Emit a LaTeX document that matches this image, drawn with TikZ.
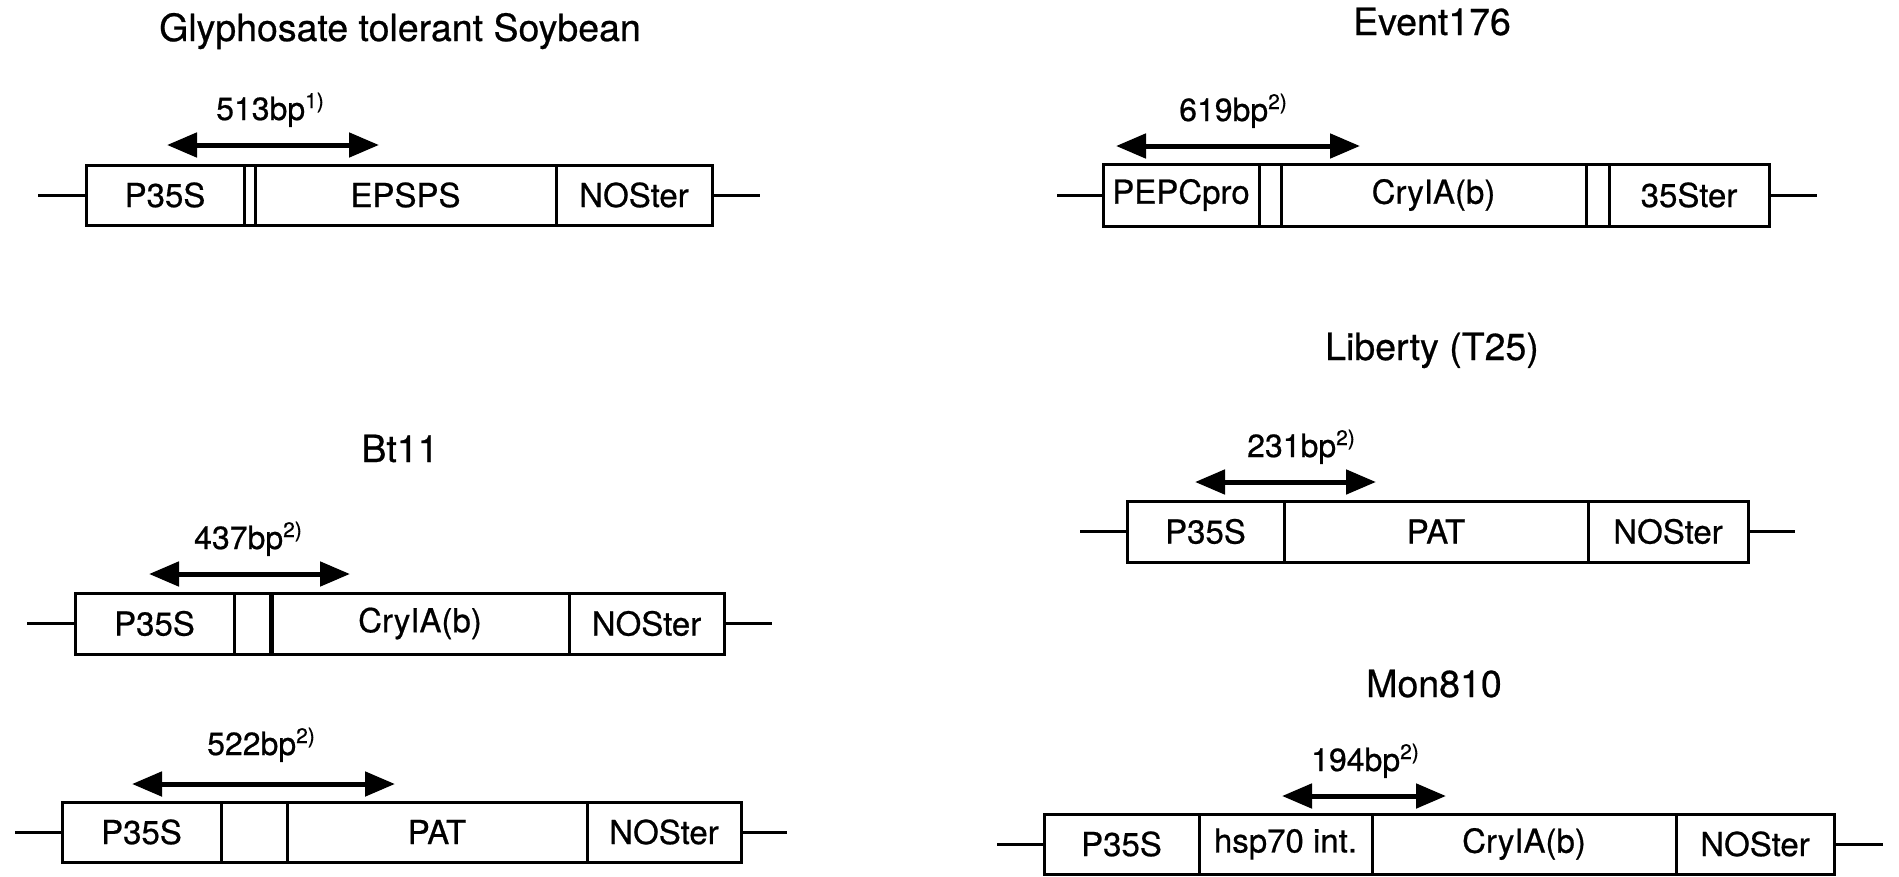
\documentclass[tikz,border=0pt]{standalone}
\usepackage{fontspec}
\setmainfont[FakeBold=0.6]{TeX Gyre Heros}
\usetikzlibrary{arrows.meta}
\newcommand{\bpsup}[1]{\raisebox{12pt}{\fontsize{21}{21}\selectfont #1}}
\begin{document}
\begin{tikzpicture}[x=1pt,y=-1pt,
  seg/.style={draw, line width=3pt, rectangle, inner sep=0pt, outer sep=0pt, anchor=west, font=\fontsize{33}{35}\selectfont},
  flank/.style={line width=3pt},
  thickdiv/.style={line width=5pt},
  bparrow/.style={line width=5pt, {Triangle[length=30pt,width=24pt]}-{Triangle[length=30pt,width=24pt]}},
  ttl/.style={anchor=base, font=\fontsize{37.5}{40}\selectfont, inner sep=0pt},
  bplabel/.style={anchor=base west, font=\fontsize{32}{34}\selectfont, inner sep=0pt}]
\fill[white] (0,0) rectangle (1899,876);
\useasboundingbox (0,0) rectangle (1899,876);

% ---------- Glyphosate tolerant Soybean ----------
\node[ttl] (t1) at (400,41) {Glyphosate tolerant Soybean};
\node[seg, minimum width=158pt, minimum height=60pt] (sP) at (86,195) {P35S};
\node[seg, minimum width=11pt, minimum height=60pt] (sG) at (244,195) {};
\node[seg, minimum width=301pt, minimum height=60pt] (sE) at (255,195) {EPSPS};
\node[seg, minimum width=156pt, minimum height=60pt] (sN) at (556,195) {NOSter};
\coordinate (sL) at (38,195);
\coordinate (sR) at (760,195);
\draw[flank] (sL) -- (sP.west);
\draw[flank] (sN.east) -- (sR);
\coordinate (sA1) at (167,145);
\coordinate (sA2) at (379,145);
\draw[bparrow] (sA1) -- (sA2);
\node[bplabel] (sl) at (216,120) {513bp\bpsup{1)}};

% ---------- Event176 ----------
\node[ttl] (t2) at (1432,35) {Event176};
\node[seg, minimum width=156pt, minimum height=62pt] (eP) at (1103,195) {PEPCpro};
\node[seg, minimum width=22pt, minimum height=62pt] (eG1) at (1259,195) {};
\node[seg, minimum width=305pt, minimum height=62pt] (eC) at (1281,195) {CryIA(b)};
\node[seg, minimum width=23pt, minimum height=62pt] (eG2) at (1586,195) {};
\node[seg, minimum width=160pt, minimum height=62pt] (eT) at (1609,195) {35Ster};
\coordinate (eL) at (1057,195);
\coordinate (eR) at (1817,195);
\draw[flank] (eL) -- (eP.west);
\draw[flank] (eT.east) -- (eR);
\coordinate (eA1) at (1116,146);
\coordinate (eA2) at (1360,146);
\draw[bparrow] (eA1) -- (eA2);
\node[bplabel] (el) at (1179,121) {619bp\bpsup{2)}};

% ---------- Bt11 ----------
\node[ttl] (t3) at (400,462) {Bt11};
\node[seg, minimum width=159pt, minimum height=61pt] (bP) at (75,623.5) {P35S};
\node[seg, minimum width=37pt, minimum height=61pt] (bG) at (234,623.5) {};
\node[seg, minimum width=298pt, minimum height=61pt] (bC) at (271,623.5) {CryIA(b)};
\node[seg, minimum width=155pt, minimum height=61pt] (bN) at (569,623.5) {NOSter};
\draw[thickdiv] (bC.north west) -- (bC.south west);
\coordinate (bL) at (27,623.5);
\coordinate (bR) at (772,623.5);
\draw[flank] (bL) -- (bP.west);
\draw[flank] (bN.east) -- (bR);
\coordinate (bA1) at (149,574);
\coordinate (bA2) at (350,574);
\draw[bparrow] (bA1) -- (bA2);
\node[bplabel] (bl) at (194,549) {437bp\bpsup{2)}};

% ---------- Bt11 (PAT) ----------
\node[seg, minimum width=159pt, minimum height=60pt] (pP) at (62,832) {P35S};
\node[seg, minimum width=66pt, minimum height=60pt] (pG) at (221,832) {};
\node[seg, minimum width=300pt, minimum height=60pt] (pA) at (287,832) {PAT};
\node[seg, minimum width=154pt, minimum height=60pt] (pN) at (587,832) {NOSter};
\coordinate (pL) at (15,832);
\coordinate (pR) at (787,832);
\draw[flank] (pL) -- (pP.west);
\draw[flank] (pN.east) -- (pR);
\coordinate (pA1) at (132,784);
\coordinate (pA2) at (395,784);
\draw[bparrow] (pA1) -- (pA2);
\node[bplabel] (pl) at (207,755) {522bp\bpsup{2)}};

% ---------- Liberty (T25) ----------
\node[ttl] (t4) at (1432,360) {Liberty (T25)};
\node[seg, minimum width=157pt, minimum height=61pt] (lP) at (1127,531.5) {P35S};
\node[seg, minimum width=304pt, minimum height=61pt] (lA) at (1284,531.5) {PAT};
\node[seg, minimum width=160pt, minimum height=61pt] (lN) at (1588,531.5) {NOSter};
\coordinate (lL) at (1080,531.5);
\coordinate (lR) at (1795,531.5);
\draw[flank] (lL) -- (lP.west);
\draw[flank] (lN.east) -- (lR);
\coordinate (lA1) at (1195,482);
\coordinate (lA2) at (1376,482);
\draw[bparrow] (lA1) -- (lA2);
\node[bplabel] (ll) at (1247,457) {231bp\bpsup{2)}};

% ---------- Mon810 ----------
\node[ttl] (t5) at (1434,697) {Mon810};
\node[seg, minimum width=155pt, minimum height=60pt] (mP) at (1044,844) {P35S};
\node[seg, minimum width=173pt, minimum height=60pt] (mH) at (1199,844) {hsp70 int.};
\node[seg, minimum width=304pt, minimum height=60pt] (mC) at (1372,844) {CryIA(b)};
\node[seg, minimum width=158pt, minimum height=60pt] (mN) at (1676,844) {NOSter};
\coordinate (mL) at (997,844);
\coordinate (mR) at (1883,844);
\draw[flank] (mL) -- (mP.west);
\draw[flank] (mN.east) -- (mR);
\coordinate (mA1) at (1282,796);
\coordinate (mA2) at (1446,796);
\draw[bparrow] (mA1) -- (mA2);
\node[bplabel] (ml) at (1311,771) {194bp\bpsup{2)}};
\end{tikzpicture}
\end{document}
